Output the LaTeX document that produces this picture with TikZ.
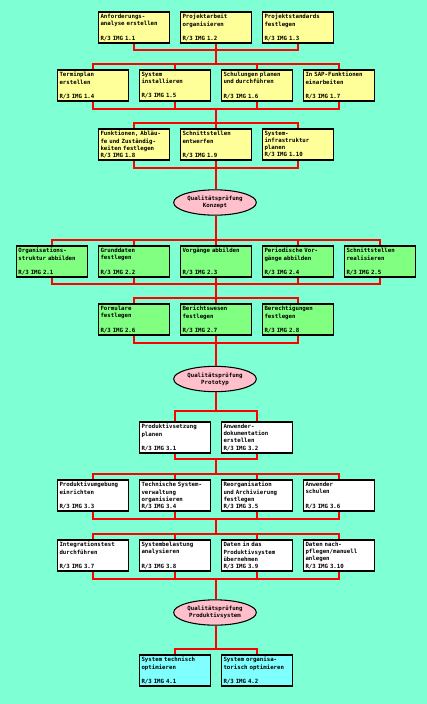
\documentclass[tikz,border=0pt]{standalone}
\usepackage{fontspec}
\setmonofont{DejaVu Sans Mono}
\usetikzlibrary{shapes.geometric}
\definecolor{bgAqua}    {HTML}{7FFFD4}
\definecolor{phaseA}    {HTML}{FFFF99}
\definecolor{phaseB}    {HTML}{80FF80}
\definecolor{phaseC}    {HTML}{FFFFFF}
\definecolor{phaseD}    {HTML}{80FFFF}
\definecolor{checkPink} {HTML}{FFC0CB}
\definecolor{linkRed}   {HTML}{FF0000}
\tikzset{
  font=\ttfamily\bfseries\fontsize{4.3}{5.3}\selectfont,
  link/.style={draw=linkRed,line width=0.8pt},
  task/.style={rectangle,draw=black,line width=0.8pt,text width=50.25pt,inner xsep=1.5pt,
    inner ysep=0pt,minimum height=23.25pt,align=left},
  taskA/.style={task,fill=phaseA},
  taskB/.style={task,fill=phaseB},
  taskC/.style={task,fill=phaseC},
  taskD/.style={task,fill=phaseD},
  check/.style={ellipse,draw=black,line width=0.8pt,fill=checkPink,inner sep=0pt,
    minimum width=62pt,minimum height=19pt,align=center},
}

\begin{document}
\begin{tikzpicture}[x=0.75pt,y=-0.75pt]

\path[fill=bgAqua] (0,0) rectangle (427,704);

% Phase 1
\node[taskA] (t11) at (134,27.5) {Anforderungs-\\analyse erstellen\\~\\R/3 IMG 1.1};
\node[taskA] (t12) at (216,27.5) {Projektarbeit\\organisieren\\~\\R/3 IMG 1.2};
\node[taskA] (t13) at (298,27.5) {Projektstandards\\festlegen\\~\\R/3 IMG 1.3};

\node[taskA] (t14) at (93,85.5) {Terminplan\\erstellen\\~\\R/3 IMG 1.4};
\node[taskA] (t15) at (175,85.5) {System\\installieren\\~\\R/3 IMG 1.5};
\node[taskA] (t16) at (257,85.5) {Schulungen planen\\und durchführen\\~\\R/3 IMG 1.6};
\node[taskA] (t17) at (339,85.5) {In SAP-Funktionen\\einarbeiten\\~\\R/3 IMG 1.7};

\node[taskA] (t18) at (134,144.5) {Funktionen, Abläu-\\fe und Zuständig-\\keiten festlegen\\R/3 IMG 1.8};
\node[taskA] (t19) at (216,144.5) {Schnittstellen\\entwerfen\\~\\R/3 IMG 1.9};
\node[taskA] (t110) at (298,144.5) {System-\\infrastruktur\\planen\\R/3 IMG 1.10};

\node[check] (q1) at (215,202.5) {Qualitätsprüfung\\Konzept};

\coordinate (b1) at (216,50);
\coordinate (b2) at (216,64);
\draw[link] (t11.south) |- (b1) -| (t13.south);
\draw[link] (t12.south) -- (b1) -- (b2);
\draw[link] (t14.north) |- (b2) -| (t17.north);
\draw[link] (t15.north) -- (t15.north |- b2);
\draw[link] (t16.north) -- (t16.north |- b2);

\coordinate (b3) at (216,109);
\coordinate (b4) at (216,123);
\draw[link] (t14.south) |- (b3) -| (t17.south);
\draw[link] (t15.south) -- (t15.south |- b3);
\draw[link] (t16.south) -- (t16.south |- b3);
\draw[link] (b3) -- (b4);
\draw[link] (t18.north) |- (b4) -| (t110.north);
\draw[link] (t19.north) -- (b4);

\coordinate (b5) at (216,168);
\draw[link] (t18.south) |- (b5) -| (t110.south);
\draw[link] (t19.south) -- (b5) -- (b5 |- q1.north);

% Phase 2
\node[taskB] (t21) at (52,261.5) {Organisations-\\struktur abbilden\\~\\R/3 IMG 2.1};
\node[taskB] (t22) at (134,261.5) {Grunddaten\\festlegen\\~\\R/3 IMG 2.2};
\node[taskB] (t23) at (216,261.5) {Vorgänge abbilden\\~\\~\\R/3 IMG 2.3};
\node[taskB] (t24) at (298,261.5) {Periodische Vor-\\gänge abbilden\\~\\R/3 IMG 2.4};
\node[taskB] (t25) at (380,261.5) {Schnittstellen\\realisieren\\~\\R/3 IMG 2.5};

\node[taskB] (t26) at (134,319.5) {Formulare\\festlegen\\~\\R/3 IMG 2.6};
\node[taskB] (t27) at (216,319.5) {Berichtswesen\\festlegen\\~\\R/3 IMG 2.7};
\node[taskB] (t28) at (298,319.5) {Berechtigungen\\festlegen\\~\\R/3 IMG 2.8};

\node[check] (q2) at (215,379) {Qualitätsprüfung\\Prototyp};

\coordinate (b6) at (216,240);
\draw[link] (b6 |- q1.south) -- (b6);
\draw[link] (t21.north) |- (b6) -| (t25.north);
\draw[link] (t22.north) -- (t22.north |- b6);
\draw[link] (t23.north) -- (b6);
\draw[link] (t24.north) -- (t24.north |- b6);

\coordinate (b7) at (216,284);
\coordinate (b8) at (216,298);
\draw[link] (t21.south) |- (b7) -| (t25.south);
\draw[link] (t22.south) -- (t22.south |- b7);
\draw[link] (t23.south) -- (b7) -- (b8);
\draw[link] (t24.south) -- (t24.south |- b7);
\draw[link] (t26.north) |- (b8) -| (t28.north);
\draw[link] (t27.north) -- (b8);

\coordinate (b9) at (216,343);
\draw[link] (t26.south) |- (b9) -| (t28.south);
\draw[link] (t27.south) -- (b9) -- (b9 |- q2.north);

% Phase 3
\node[taskC] (t31) at (175,437.5) {Produktivsetzung\\planen\\~\\R/3 IMG 3.1};
\node[taskC] (t32) at (257,437.5) {Anwender-\\dokumentation\\erstellen\\R/3 IMG 3.2};

\node[taskC] (t33) at (93,495.5) {Produktivumgebung\\einrichten\\~\\R/3 IMG 3.3};
\node[taskC] (t34) at (175,495.5) {Technische System-\\verwaltung\\organisieren\\R/3 IMG 3.4};
\node[taskC] (t35) at (257,495.5) {Reorganisation\\und Archivierung\\festlegen\\R/3 IMG 3.5};
\node[taskC] (t36) at (339,495.5) {Anwender\\schulen\\~\\R/3 IMG 3.6};

\node[taskC] (t37) at (93,555.5) {Integrationstest\\durchführen\\~\\R/3 IMG 3.7};
\node[taskC] (t38) at (175,555.5) {Systembelastung\\analysieren\\~\\R/3 IMG 3.8};
\node[taskC] (t39) at (257,555.5) {Daten in das\\Produktivsystem\\übernehmen\\R/3 IMG 3.9};
\node[taskC] (t310) at (339,555.5) {Daten nach-\\pflegen/manuell\\anlegen\\R/3 IMG 3.10};

\node[check] (q3) at (215,612.5) {Qualitätsprüfung\\Produktivsystem};

\coordinate (b10) at (216,411);
\draw[link] (b10 |- q2.south) -- (b10);
\draw[link] (t31.north) |- (b10) -| (t32.north);

\coordinate (b11) at (216,459);
\coordinate (b12) at (216,474);
\draw[link] (t31.south) |- (b11) -| (t32.south);
\draw[link] (b11) -- (b12);
\draw[link] (t33.north) |- (b12) -| (t36.north);
\draw[link] (t34.north) -- (t34.north |- b12);
\draw[link] (t35.north) -- (t35.north |- b12);

\coordinate (b13) at (216,519);
\coordinate (b14) at (216,534);
\draw[link] (t33.south) |- (b13) -| (t36.south);
\draw[link] (t34.south) -- (t34.south |- b13);
\draw[link] (t35.south) -- (t35.south |- b13);
\draw[link] (b13) -- (b14);
\draw[link] (t37.north) |- (b14) -| (t310.north);
\draw[link] (t38.north) -- (t38.north |- b14);
\draw[link] (t39.north) -- (t39.north |- b14);

\coordinate (b15) at (216,579);
\draw[link] (t37.south) |- (b15) -| (t310.south);
\draw[link] (t38.south) -- (t38.south |- b15);
\draw[link] (t39.south) -- (t39.south |- b15);
\draw[link] (b15) -- (b15 |- q3.north);

% Phase 4
\node[taskD] (t41) at (175,670.5) {System technisch\\optimieren\\~\\R/3 IMG 4.1};
\node[taskD] (t42) at (257,670.5) {System organisa-\\torisch optimieren\\~\\R/3 IMG 4.2};

\coordinate (b16) at (216,649);
\draw[link] (b16 |- q3.south) -- (b16);
\draw[link] (t41.north) |- (b16) -| (t42.north);

\end{tikzpicture}
\end{document}
